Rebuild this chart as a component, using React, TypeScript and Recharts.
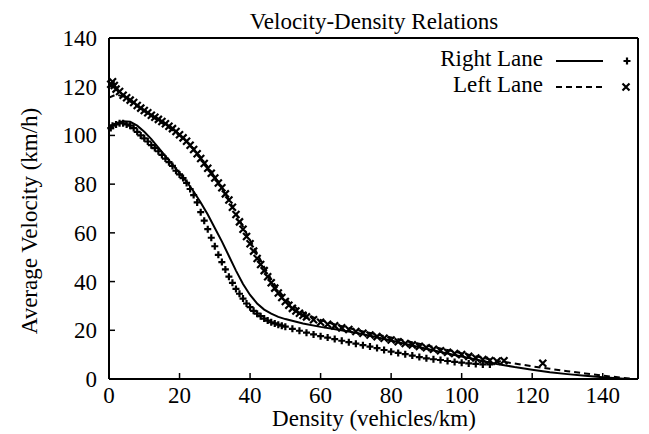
import { ComposedChart, Line, Scatter, XAxis, YAxis } from "recharts";

// density (vehicles/km) vs average velocity (km/h)
const rightLanePoints: [number, number][] = [
  [0.5,103],[1,104],[2,104.5],[3,105],[4,105],[5,104.5],[6,104],[7,103],[8,101.5],[9,100],
  [10,98.8],[11,97.5],[12,96],[13,94.8],[14,93.5],[15,92],[16,90.5],[17,89],[18,87.5],[19,85.5],
  [20,84],[21,82.5],[22,80.5],[23,78],[24,75.5],[25,72.5],[26,68.5],[27,65],[28,61.5],[29,58],
  [30,54.5],[31,51],[32,48],[33,45],[34,42],[35,39.5],[36,37],[37,35],[38,33],[39,31],
  [40,29.5],[41,28],[42,26.8],[43,25.8],[44,24.8],[45,24],[46,23.3],[47,22.8],[48,22.3],[49,21.9],
  [50,21.5],[52,20.6],[54,19.8],[56,19],[58,18.3],[60,17.6],[62,17],[64,16.4],[66,15.7],[68,15.1],
  [70,14.5],[72,13.9],[74,13.3],[76,12.7],[78,11.9],[80,11.2],[82,10.7],[84,10.2],[86,9.6],[88,9],
  [90,8.5],[92,8.1],[94,7.8],[96,7.4],[98,7],[100,6.7],[102,6.4],[104,6.2],[106,6],[108,6],
];

const leftLanePoints: [number, number][] = [
  [0.5,121],[1,122],[1.5,120.5],[2,119],[3,118],[4,116.5],[5,115.5],[6,114.5],[7,113.5],[8,112.3],
  [9,111.2],[10,110.2],[11,109.3],[12,108.3],[13,107.5],[14,106.6],[15,105.7],[16,104.8],[17,103.8],[18,102.8],
  [19,101.6],[20,100.3],[21,99],[22,97.6],[23,96],[24,94.2],[25,92.5],[26,90.5],[27,88.5],[28,86.5],
  [29,84.5],[30,82.5],[31,80.5],[32,78.5],[33,76],[34,73.5],[35,70.5],[36,67.5],[37,64.5],[38,61.5],
  [39,58.5],[40,55.5],[41,52.5],[42,49.5],[43,47],[44,44.5],[45,42],[46,39.5],[47,37.3],[48,35.3],
  [49,33.5],[50,31.8],[51,30.3],[52,29],[53,27.9],[54,27],[55,26.2],[56,25.5],[58,24.3],[60,23.3],
  [62,22.5],[64,21.8],[66,21],[68,20.3],[70,19.5],[72,18.8],[74,18.1],[76,17.4],[78,16.7],[80,16],
  [82,15.3],[84,14.6],[86,14],[88,13.4],[90,12.8],[92,12.2],[94,11.6],[96,11],[98,10.5],[100,10],
  [102,9.3],[104,8.6],[106,8],[108,7.6],[110,7.3],[112,7.5],[123,6.5],
];

const rightLaneModel: [number, number][] = [
  [0,103.5],[2,105],[4,105.8],[6,105.6],[8,104],[10,101.5],[12,98.5],[14,95],[16,91.5],[18,88],
  [20,84.5],[22,81],[24,77],[26,72.5],[28,67.5],[30,62],[32,56.5],[34,50.5],[36,44.5],[38,39],
  [40,34.5],[42,31],[44,28.5],[46,26.8],[48,25.5],[50,24.6],[55,22.8],[60,21.4],[65,20.2],[70,19],
  [75,17.5],[80,15.8],[85,14.1],[90,12.4],[95,10.8],[100,9.2],[105,7.7],[110,6.2],[115,4.9],[120,3.8],
  [125,2.8],[130,2],[135,1.3],[140,0.7],[145,0.2],[147,0],
];

const leftLaneModel: [number, number][] = [
  [0,115.5],[2,116.8],[4,116],[6,114],[8,112],[10,110],[12,108],[14,106],[16,104.2],[18,102.2],
  [20,100],[22,97.5],[24,94.5],[26,91],[28,87],[30,83],[32,78.5],[34,73.5],[36,68],[38,62.5],
  [40,57],[42,51.5],[44,46],[46,41],[48,36.5],[50,33],[52,30.2],[54,28.2],[56,26.6],[58,25.3],
  [60,24.2],[65,22],[70,20.2],[75,18.6],[80,17],[85,15.4],[90,13.8],[95,12.2],[100,10.6],[105,9],
  [110,7.4],[115,6.4],[120,5.2],[125,4.2],[130,3.2],[135,2.3],[140,1.4],[145,0.6],[148,0.1],
];

const xTicks = [0, 20, 40, 60, 80, 100, 120, 140];
const yTicks = [0, 20, 40, 60, 80, 100, 120, 140];

const FONT = "'Liberation Serif', 'Times New Roman', serif";
const FS = 23;

const toRows = (pts: [number, number][]) => pts.map(([d, v]) => ({ d, v }));

// gnuplot style: ticks point inward on all four sides
const BottomTick = (p: any) => (
  <g>
    <line x1={p.x} y1={p.y} x2={p.x} y2={p.y - 6} stroke="#000" strokeWidth={1.5} />
    <text x={p.x} y={p.y + 24} textAnchor="middle" fontFamily={FONT} fontSize={FS} fill="#000">{p.payload.value}</text>
  </g>
);
const TopTick = (p: any) => <line x1={p.x} y1={p.y} x2={p.x} y2={p.y + 6} stroke="#000" strokeWidth={1.5} />;
const LeftTick = (p: any) => (
  <g>
    <line x1={p.x} y1={p.y} x2={p.x + 6} y2={p.y} stroke="#000" strokeWidth={1.5} />
    <text x={p.x - 12} y={p.y + 8} textAnchor="end" fontFamily={FONT} fontSize={FS} fill="#000">{p.payload.value}</text>
  </g>
);
const RightTick = (p: any) => <line x1={p.x} y1={p.y} x2={p.x - 6} y2={p.y} stroke="#000" strokeWidth={1.5} />;

const plus = (p: any) => (
  <path d={`M${p.cx - 3.5},${p.cy}h7M${p.cx},${p.cy - 3.5}v7`} stroke="#000" strokeWidth={2.2} fill="none" />
);
const cross = (p: any) => (
  <path d={`M${p.cx - 3.5},${p.cy - 3.5}l7,7M${p.cx - 3.5},${p.cy + 3.5}l7,-7`} stroke="#000" strokeWidth={2.2} fill="none" />
);

const axisLine = { stroke: "#000", strokeWidth: 2 };

export default function App() {
  return (
    <div style={{ position: "absolute", left: 0, top: 0, width: 649, height: 434, background: "#fff" }}>
      <ComposedChart width={649} height={434} margin={{ top: 37, right: 10, bottom: 0, left: 0 }}>
        <XAxis type="number" dataKey="d" domain={[0, 150]} ticks={xTicks} height={55}
          tickSize={0} tickMargin={0} tick={BottomTick} axisLine={axisLine} interval={0} />
        <XAxis xAxisId="top" orientation="top" type="number" dataKey="d" domain={[0, 150]} ticks={xTicks} height={1}
          tickSize={0} tickMargin={0} tick={TopTick} axisLine={axisLine} interval={0} />
        <YAxis type="number" domain={[0, 140]} ticks={yTicks} width={109}
          tickSize={0} tickMargin={0} tick={LeftTick} axisLine={axisLine} interval={0} />
        <YAxis yAxisId="right" orientation="right" type="number" domain={[0, 140]} ticks={yTicks} width={1}
          tickSize={0} tickMargin={0} tick={RightTick} axisLine={axisLine} interval={0} />
        <Scatter data={toRows(rightLanePoints)} dataKey="v" shape={plus} isAnimationActive={false} />
        <Scatter data={toRows(leftLanePoints)} dataKey="v" shape={cross} isAnimationActive={false} />
        <Line data={toRows(rightLaneModel)} dataKey="v" type="linear" stroke="#000" strokeWidth={2}
          dot={false} activeDot={false} isAnimationActive={false} />
        <Line data={toRows(leftLaneModel)} dataKey="v" type="linear" stroke="#000" strokeWidth={2}
          strokeDasharray="6 4" dot={false} activeDot={false} isAnimationActive={false} />
      </ComposedChart>
      <svg width={649} height={434} style={{ position: "absolute", left: 0, top: 0, pointerEvents: "none" }}
        fontFamily={FONT} fontSize={FS} fill="#000">
        <text x={374} y={29} textAnchor="middle">Velocity-Density Relations</text>
        <text x={374} y={426} textAnchor="middle">Density (vehicles/km)</text>
        <text transform="translate(37,221) rotate(-90)" textAnchor="middle">Average Velocity (km/h)</text>
        <text x={543} y={66} textAnchor="end">Right Lane</text>
        <line x1={556} y1={61} x2={603} y2={61} stroke="#000" strokeWidth={2} />
        {plus({ cx: 627, cy: 61 })}
        <text x={543} y={92} textAnchor="end">Left Lane</text>
        <line x1={556} y1={87} x2={603} y2={87} stroke="#000" strokeWidth={2} strokeDasharray="6 4" />
        {cross({ cx: 626, cy: 87 })}
      </svg>
    </div>
  );
}
